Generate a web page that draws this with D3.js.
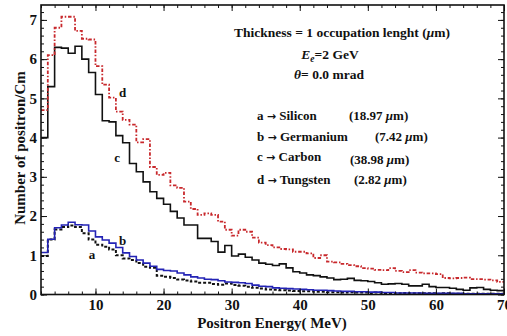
<!DOCTYPE html>
<html>
<head>
<meta charset="utf-8">
<script src="https://cdn.jsdelivr.net/npm/d3@7"></script>
<style>
  html, body { margin: 0; padding: 0; background: #fff; }
  svg { display: block; }
  text { font-family: "Liberation Serif", "Times New Roman", serif; font-weight: bold; fill: #111; }
</style>
</head>
<body>
<script>
// ---- data ----
const binEdges = [2,3,4,5,6,7,8,9,10,11,12,13,14,15,16,17,18,19,20,21,22,23,24,25,26,27,28,29,30,31,32,33,34,35,36,37,38,39,40,41,42,43,44,45,46,47,48,49,50,51,52,53,54,55,56,57,58,59,60,61,62,63,64,65,66,67,68,69,70];
const xTickLabels = [10, 20, 30, 40, 50, 60, 70];
const yTickLabels = [0, 1, 2, 3, 4, 5, 6, 7];

// a: Silicon (black dashed)
const silicon = [0.98,1.4,1.66,1.72,1.76,1.72,1.56,1.4,1.27,1.22,1.15,1.0,0.92,0.88,0.8,0.71,0.68,0.48,0.45,0.42,0.38,0.36,0.33,0.3,0.3,0.27,0.25,0.28,0.24,0.22,0.2,0.17,0.15,0.13,0.12,0.11,0.1,0.09,0.08,0.08,0.07,0.07,0.06,0.06,0.05,0.06,0.05,0.05,0.04,0.05,0.04,0.04,0.03,0.04,0.03,0.03,0.03,0.03,0.02,0.03,0.02,0.02,0.02,0.02,0.02,0.02,0.02,0.02];
// b: Germanium (blue)
const germanium = [1.07,1.41,1.7,1.77,1.84,1.78,1.77,1.62,1.47,1.39,1.31,1.2,1.06,0.97,0.88,0.8,0.72,0.64,0.61,0.6,0.55,0.5,0.45,0.42,0.39,0.38,0.35,0.32,0.31,0.3,0.28,0.24,0.21,0.2,0.17,0.16,0.15,0.14,0.13,0.12,0.11,0.11,0.1,0.09,0.08,0.08,0.07,0.07,0.06,0.06,0.05,0.05,0.04,0.04,0.04,0.04,0.03,0.03,0.03,0.03,0.03,0.03,0.02,0.02,0.02,0.02,0.02,0.02];
// c: Carbon (black solid)
const carbon = [4.0,5.3,6.3,6.28,6.15,6.33,6.0,5.66,5.1,4.43,4.4,4.05,3.87,3.34,3.13,2.87,2.62,2.45,2.3,2.12,1.95,1.77,1.77,1.43,1.43,1.35,1.08,1.25,0.98,1.03,0.95,0.88,0.8,0.77,0.74,0.78,0.68,0.58,0.55,0.5,0.48,0.45,0.42,0.38,0.39,0.41,0.36,0.35,0.33,0.3,0.26,0.27,0.28,0.26,0.22,0.22,0.26,0.2,0.18,0.18,0.16,0.13,0.11,0.17,0.18,0.13,0.11,0.1];
// d: Tungsten (red dot-dashed)
const tungsten = [4.7,6.1,6.8,7.08,7.08,6.72,6.52,6.5,5.82,5.35,5.02,4.66,4.45,4.33,3.88,3.96,3.25,3.05,3.1,2.78,2.72,2.37,2.18,2.03,2.07,2.03,1.86,1.65,1.5,1.65,1.6,1.45,1.32,1.26,1.2,1.16,1.15,1.09,1.09,1.05,0.93,1.0,0.84,0.82,0.78,0.75,0.72,0.67,0.66,0.63,0.62,0.67,0.6,0.57,0.62,0.56,0.54,0.54,0.52,0.42,0.41,0.42,0.43,0.39,0.39,0.38,0.36,0.32];

// ---- layout ----
const W = 507, H = 336;
const L = 41, R = 504, T = 5, B = 294.5;

const svg = d3.select("body").append("svg").attr("width", W).attr("height", H);
svg.append("rect").attr("width", W).attr("height", H).attr("fill", "#fff");

const x = d3.scaleLinear().domain([2, 70]).range([L, R]);
const y = d3.scaleLinear().domain([0, 7.38]).range([B, T]);

svg.append("clipPath").attr("id", "clip").append("rect")
  .attr("x", L).attr("y", T).attr("width", R - L).attr("height", B - T);

function stepPoints(vals) {
  const pts = vals.map((v, i) => [binEdges[i], v]);
  pts.push([binEdges[binEdges.length - 1], vals[vals.length - 1]]);
  return pts;
}
const line = d3.line().x(d => x(d[0])).y(d => y(d[1])).curve(d3.curveStepAfter);

const plot = svg.append("g").attr("clip-path", "url(#clip)");
const series = [
  { v: carbon, color: "#111", dash: null, w: 1.6 },
  { v: tungsten, color: "#c8282c", dash: "3.5,1.8,1.5,1.8", w: 1.8 },
  { v: silicon, color: "#111", dash: "3,2", w: 2 },
  { v: germanium, color: "#2323b5", dash: null, w: 1.6 }
];
series.forEach(s => {
  plot.append("path").attr("d", line(stepPoints(s.v)))
    .attr("fill", "none").attr("stroke", s.color).attr("stroke-width", s.w)
    .attr("stroke-dasharray", s.dash);
});

// ---- axes (inward ticks on all sides) ----
const xMinor = d3.range(2, 71, 2);
const yMinor = d3.range(0, 7.4, 0.2);
function styleAxis(g) {
  g.select(".domain").remove();
  g.selectAll(".tick line").attr("stroke", "#111").attr("stroke-width", 1);
}
function styleLabels(g) {
  g.selectAll("text").attr("font-size", 15).attr("font-family", "Liberation Serif")
    .attr("font-weight", "bold").attr("fill", "#111");
}
// bottom
svg.append("g").attr("transform", `translate(0,${B})`)
  .call(d3.axisBottom(x).tickValues(xMinor).tickSize(-3).tickFormat(""))
  .call(styleAxis);
svg.append("g").attr("transform", `translate(0,${B})`)
  .call(d3.axisBottom(x).tickValues(xTickLabels).tickSize(-6).tickPadding(5).tickFormat(d3.format("d")))
  .call(styleAxis).call(styleLabels);
// top
svg.append("g").attr("transform", `translate(0,${T})`)
  .call(d3.axisTop(x).tickValues(xMinor).tickSize(-3).tickFormat(""))
  .call(styleAxis);
svg.append("g").attr("transform", `translate(0,${T})`)
  .call(d3.axisTop(x).tickValues(xTickLabels).tickSize(-6).tickFormat(""))
  .call(styleAxis);
// left
svg.append("g").attr("transform", `translate(${L},0)`)
  .call(d3.axisLeft(y).tickValues(yMinor).tickSize(-3).tickFormat(""))
  .call(styleAxis);
svg.append("g").attr("transform", `translate(${L},0)`)
  .call(d3.axisLeft(y).tickValues(yTickLabels).tickSize(-6).tickPadding(4).tickFormat(d3.format("d")))
  .call(styleAxis).call(styleLabels);
// right
svg.append("g").attr("transform", `translate(${R},0)`)
  .call(d3.axisRight(y).tickValues(yMinor).tickSize(-3).tickFormat(""))
  .call(styleAxis);
svg.append("g").attr("transform", `translate(${R},0)`)
  .call(d3.axisRight(y).tickValues(yTickLabels).tickSize(-6).tickFormat(""))
  .call(styleAxis);

// frame
svg.append("rect").attr("x", L).attr("y", T).attr("width", R - L).attr("height", B - T)
  .attr("fill", "none").attr("stroke", "#111").attr("stroke-width", 1.6);

// ---- axis titles ----
svg.append("text").attr("x", 272).attr("y", 328).attr("text-anchor", "middle")
  .attr("font-size", 15).text("Positron Energy( MeV)");
svg.append("text").attr("transform", "translate(25,148) rotate(-90)").attr("text-anchor", "middle")
  .attr("font-size", 15).text("Number of positron/Cm");

// ---- curve labels ----
const curveLabels = [["d", 14.0, 5.04], ["c", 13.2, 3.38], ["b", 14.0, 1.26], ["a", 9.5, 0.9]];
curveLabels.forEach(([t, ex, ev]) => {
  svg.append("text").attr("x", x(ex)).attr("y", y(ev)).attr("text-anchor", "middle")
    .attr("font-size", 13).text(t);
});

// ---- annotations ----
const ann = svg.append("g");
const t1 = ann.append("text").attr("x", 342).attr("y", 37).attr("text-anchor", "middle").attr("font-size", 13.5);
t1.append("tspan").text("Thickness = 1 occupation lenght (");
t1.append("tspan").attr("font-style", "italic").text("μ");
t1.append("tspan").text("m)");

const t2 = ann.append("text").attr("x", 330).attr("y", 59).attr("text-anchor", "middle").attr("font-size", 13.5);
t2.append("tspan").attr("font-style", "italic").text("E");
t2.append("tspan").attr("font-style", "italic").attr("font-size", 9.5).attr("dy", 3).text("e");
t2.append("tspan").attr("dy", -3).text("=2 GeV");

const t3 = ann.append("text").attr("x", 329).attr("y", 79).attr("text-anchor", "middle").attr("font-size", 13.5);
t3.append("tspan").attr("font-style", "italic").text("θ");
t3.append("tspan").text("= 0.0 mrad");

const legendRows = [
  ["a", "Silicon", "18.97", 120, 349, 120],
  ["b", "Germanium", "7.42", 141, 375, 141],
  ["c", "Carbon", "38.98", 161, 350, 164],
  ["d", "Tungsten", "2.82", 184, 354, 184]
];
legendRows.forEach(([k, name, th, yy, tx, ty]) => {
  const lt = ann.append("text").attr("x", 257).attr("y", yy).attr("font-size", 13);
  lt.append("tspan").text(`${k} `);
  lt.append("tspan").attr("font-family", "DejaVu Sans").attr("font-size", 11).attr("dy", -0.5).text("→");
  lt.append("tspan").attr("dy", 0.5).text(` ${name}`);
  const tt = ann.append("text").attr("x", tx).attr("y", ty).attr("font-size", 13);
  tt.append("tspan").text(`(${th} `);
  tt.append("tspan").attr("font-style", "italic").text("μ");
  tt.append("tspan").text("m)");
});
</script>
</body>
</html>
